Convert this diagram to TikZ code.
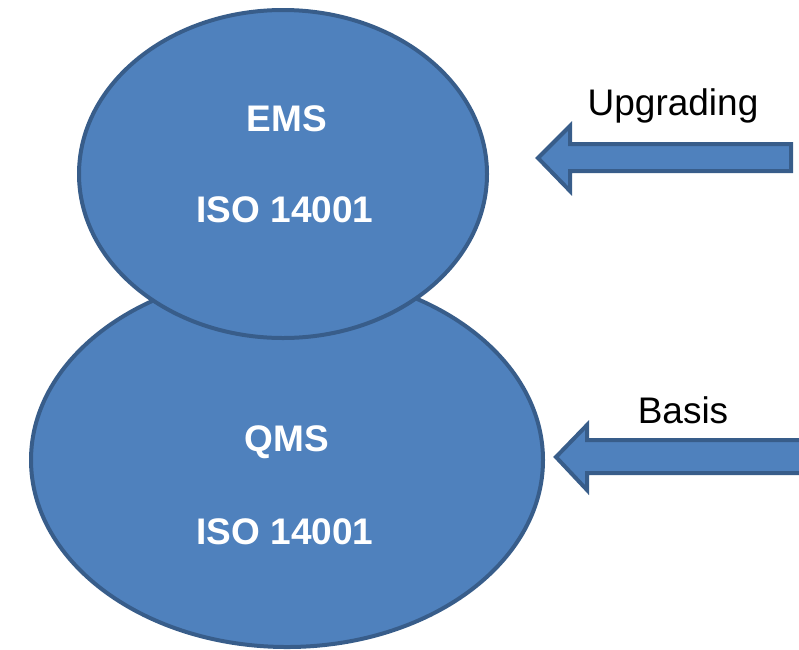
\documentclass[tikz,border=0pt]{standalone}
\usepackage{fontspec}
\setmainfont{Liberation Sans}
\definecolor{fillblue}{HTML}{4F81BD}
\definecolor{edgeblue}{HTML}{385D8A}
\begin{document}
\begin{tikzpicture}[x=1pt,y=-1pt,
  blob/.style={fill=fillblue,draw=edgeblue,line width=4pt},
  intext/.style={text=white,font=\fontsize{37}{44}\selectfont\bfseries},
  lbl/.style={text=black,font=\fontsize{37}{44}\selectfont}]
\useasboundingbox (0,0) rectangle (799,649);
\clip (0,0) rectangle (799,649);
% bottom ellipse
\draw[blob] (287,460) ellipse [x radius=256, y radius=187];
% top ellipse
\draw[blob] (283,174) ellipse [x radius=204, y radius=164];
\node[intext] (ems) at (287,119) {EMS};
\node[intext] (iso1) at (285,210) {ISO 14001};
\node[intext] (qms) at (287,442) {QMS};
\node[intext] (iso2) at (285,532) {ISO 14001};
% arrows
\draw[blob,line join=miter] (538,158) -- (570,126) -- (570,144) -- (791,144) -- (791,171) -- (570,171) -- (570,191) -- cycle;
\draw[blob,line join=miter] (556,457) -- (587,425) -- (587,440) -- (810,440) -- (810,473) -- (587,473) -- (587,490) -- cycle;
\node[lbl] (up) at (673,106) {Upgrading};
\node[lbl] (basis) at (683,410) {Basis};
\end{tikzpicture}
\end{document}
